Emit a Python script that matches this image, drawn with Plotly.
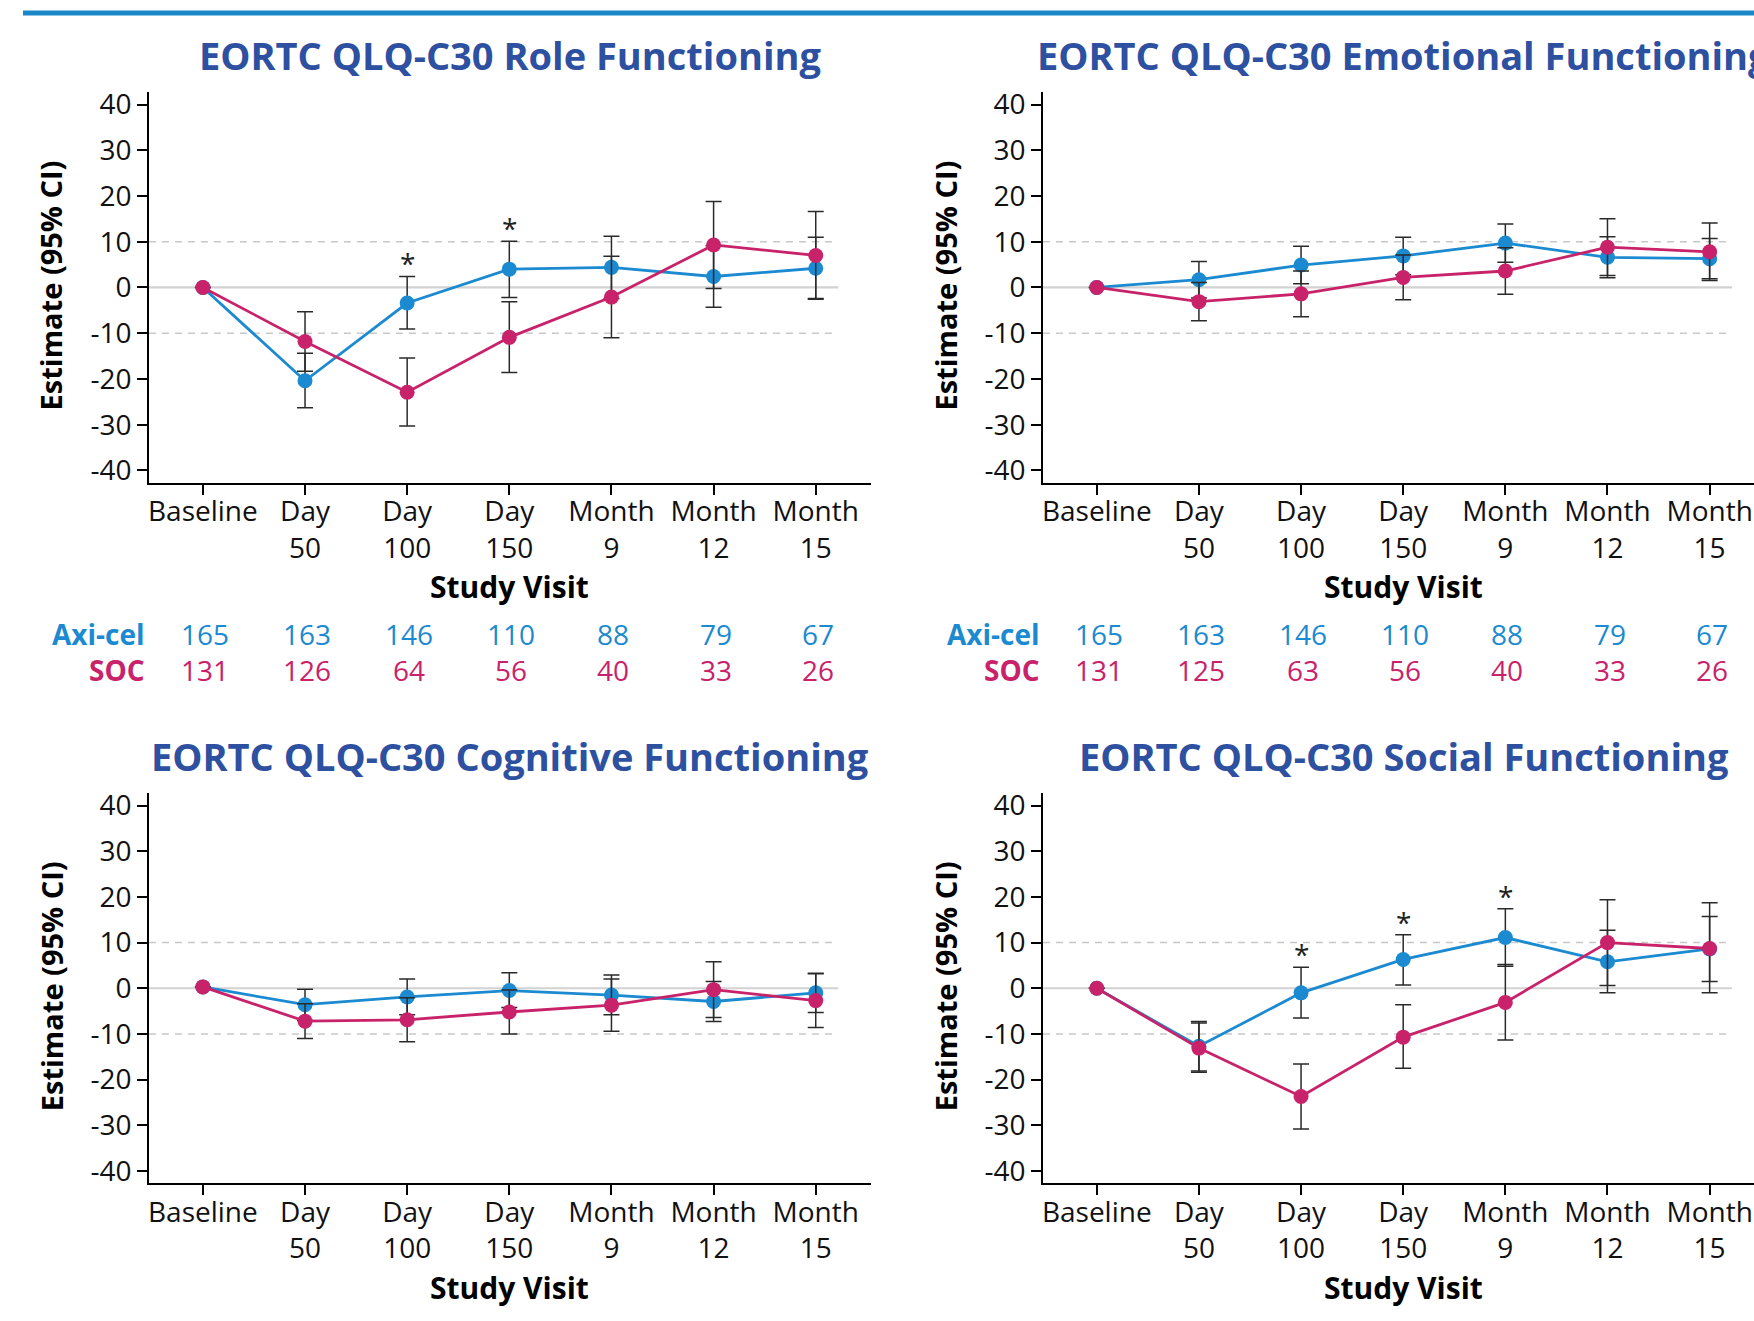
import plotly.graph_objects as go

# ---------------- data ----------------
visits = ["Baseline", "Day<br>50", "Day<br>100", "Day<br>150", "Month<br>9", "Month<br>12", "Month<br>15"]
visit_idx = [0, 1, 2, 3, 4, 5, 6]
y_ticks = [-40, -30, -20, -10, 0, 10, 20, 30, 40]
y_ticktext = ["-40", "-30", "-20", "-10", "0", "10", "20", "30", "40"]

# Role functioning
role_axi_est = [0, -20.4, -3.4, 4.0, 4.4, 2.4, 4.2]
role_axi_lo = [None, -26.3, -9.1, -2.2, -2.4, -4.3, -2.4]
role_axi_hi = [None, -14.4, 2.4, 10.1, 11.2, 9.1, 11.0]
role_soc_est = [0, -11.8, -22.9, -10.9, -2.1, 9.3, 7.0]
role_soc_lo = [None, -18.3, -30.3, -18.6, -11.0, -0.2, -2.6]
role_soc_hi = [None, -5.3, -15.4, -3.1, 6.8, 18.8, 16.6]
role_sig = [2, 3]

# Emotional functioning
emo_axi_est = [0, 1.7, 4.9, 6.9, 9.7, 6.6, 6.3]
emo_axi_lo = [None, -2.3, 0.8, 2.8, 5.5, 2.1, 1.9]
emo_axi_hi = [None, 5.7, 9.0, 11.0, 13.9, 11.1, 10.7]
emo_soc_est = [0, -3.1, -1.4, 2.2, 3.6, 8.8, 7.8]
emo_soc_lo = [None, -7.3, -6.4, -2.7, -1.5, 2.6, 1.5]
emo_soc_hi = [None, 1.1, 3.6, 7.1, 8.7, 15.0, 14.1]
emo_sig = []

# Cognitive functioning
cog_axi_est = [0.3, -3.6, -1.9, -0.5, -1.5, -2.9, -1.0]
cog_axi_lo = [None, -7.0, -5.8, -4.2, -5.8, -7.3, -5.3]
cog_axi_hi = [None, -0.2, 2.0, 3.4, 2.9, 1.5, 3.3]
cog_soc_est = [0.3, -7.2, -6.9, -5.2, -3.7, -0.3, -2.7]
cog_soc_lo = [None, -11.0, -11.7, -10.0, -9.4, -6.4, -8.6]
cog_soc_hi = [None, -3.4, -2.1, -0.4, 2.0, 5.8, 3.2]
cog_sig = []

# Social functioning
soc_axi_est = [0, -12.7, -1.0, 6.3, 11.1, 5.8, 8.6]
soc_axi_lo = [None, -18.1, -6.5, 0.7, 4.8, -1.0, 1.5]
soc_axi_hi = [None, -7.3, 4.6, 11.7, 17.4, 12.7, 15.7]
soc_soc_est = [0, -13.1, -23.7, -10.7, -3.1, 10.0, 8.7]
soc_soc_lo = [None, -18.4, -30.8, -17.5, -11.3, 0.6, -1.0]
soc_soc_hi = [None, -7.6, -16.6, -3.6, 5.2, 19.4, 18.7]
soc_sig = [2, 3, 4]

# Patient counts
role_n_axi = [165, 163, 146, 110, 88, 79, 67]
role_n_soc = [131, 126, 64, 56, 40, 33, 26]
emo_n_axi = [165, 163, 146, 110, 88, 79, 67]
emo_n_soc = [131, 125, 63, 56, 40, 33, 26]

# ---------------- style ----------------
W, H = 1754, 1321
BLUE = "#1B8AD0"
MAG = "#C8236A"
TITLE_C = "#2D50A0"
ERR_C = "#2a2a2a"
FONT = "Open Sans"
TICK_SIZE = 28


def fx(p):
    return p / W


def fy(p):
    return 1 - p / H


panels = [
    dict(title="EORTC QLQ-C30 Role Functioning", x0=148, x1=870, base=202, y0=85, y1=479.5,
         axi=(role_axi_est, role_axi_lo, role_axi_hi), soc=(role_soc_est, role_soc_lo, role_soc_hi),
         sig=role_sig, counts=(role_n_axi, role_n_soc)),
    dict(title="EORTC QLQ-C30 Emotional Functioning", x0=1042.6, x1=1754, base=1096.4, y0=85, y1=479.5,
         axi=(emo_axi_est, emo_axi_lo, emo_axi_hi), soc=(emo_soc_est, emo_soc_lo, emo_soc_hi),
         sig=emo_sig, counts=(emo_n_axi, emo_n_soc)),
    dict(title="EORTC QLQ-C30 Cognitive Functioning", x0=148, x1=870, base=202, y0=793, y1=1187,
         axi=(cog_axi_est, cog_axi_lo, cog_axi_hi), soc=(cog_soc_est, cog_soc_lo, cog_soc_hi),
         sig=cog_sig, counts=None),
    dict(title="EORTC QLQ-C30 Social Functioning", x0=1042.6, x1=1754, base=1096.4, y0=793, y1=1187,
         axi=(soc_axi_est, soc_axi_lo, soc_axi_hi), soc=(soc_soc_est, soc_soc_lo, soc_soc_hi),
         sig=soc_sig, counts=None),
]

STEP = 102.2
YR = 42.7

fig = go.Figure()
annotations = []
shapes = []


def err_arrays(est, lo, hi):
    plus = [None if h is None else h - e for e, h in zip(est, hi)]
    minus = [None if l is None else e - l for e, l in zip(est, lo)]
    return plus, minus


for i, p in enumerate(panels):
    n = "" if i == 0 else str(i + 1)
    xa, ya = "x" + n, "y" + n
    # two series: axi-cel first, SOC on top
    for name, color, (est, lo, hi) in (("Axi-cel", BLUE, p["axi"]), ("SOC", MAG, p["soc"])):
        plus, minus = err_arrays(est, lo, hi)
        fig.add_trace(go.Scatter(
            x=visit_idx, y=est, mode="lines+markers", name=name, showlegend=False,
            line=dict(color=color, width=2.8),
            marker=dict(color=color, size=15),
            error_y=dict(type="data", symmetric=False, array=plus, arrayminus=minus,
                         color=ERR_C, thickness=1.5, width=8),
            xaxis=xa, yaxis=ya, cliponaxis=False,
        ))
    xr0 = -(p["base"] - p["x0"]) / STEP
    xr1 = (p["x1"] - p["base"]) / STEP
    axis_common = dict(showline=True, linecolor="black", linewidth=1.6, ticks="outside",
                       ticklen=10, tickwidth=1.6, tickcolor="black", showgrid=False,
                       zeroline=False, tickfont=dict(family=FONT, size=TICK_SIZE, color="#111"))
    fig.layout["xaxis" + n] = dict(domain=[fx(p["x0"]), fx(p["x1"])], range=[xr0, xr1],
                                   anchor=ya, tickmode="array", tickvals=visit_idx, ticktext=visits,
                                   ticklabelstandoff=-7, **axis_common)
    fig.layout["yaxis" + n] = dict(domain=[fy(p["y1"]), fy(p["y0"])], range=[-YR, YR],
                                   anchor=xa, tickmode="array", tickvals=y_ticks, ticktext=y_ticktext,
                                   **axis_common)
    # reference lines
    shapes.append(dict(type="line", xref=xa, yref=ya, x0=xr0, x1=6.22, y0=0, y1=0,
                       line=dict(color="#D2D2D2", width=2.2), layer="below"))
    for yv in (10, -10):
        shapes.append(dict(type="line", xref=xa, yref=ya, x0=xr0, x1=6.2, y0=yv, y1=yv,
                           line=dict(color="#C8C8C8", width=1.5, dash="7px,6px"), layer="below"))
    # panel title
    cx = p["x0"] + 361
    annotations.append(dict(text="<b>" + p["title"] + "</b>", xref="paper", yref="paper",
                            x=fx(cx), y=fy(p["y0"] - 37.5), xanchor="center", yanchor="middle",
                            showarrow=False, font=dict(family=FONT, size=38, color=TITLE_C)))
    # axis titles
    annotations.append(dict(text="<b>Study Visit</b>", xref="paper", yref="paper",
                            x=fx(cx), y=fy(p["y1"] + 105), xanchor="center", yanchor="middle",
                            showarrow=False, font=dict(family=FONT, size=30, color="black")))
    annotations.append(dict(text="<b>Estimate (95% CI)</b>", xref="paper", yref="paper",
                            x=fx(p["x0"] - 98), y=fy((p["y0"] + p["y1"]) / 2 - 2), textangle=-90,
                            xanchor="center", yanchor="middle",
                            showarrow=False, font=dict(family=FONT, size=29, color="black")))
    # significance asterisks
    for k in p["sig"]:
        annotations.append(dict(text="*", xref=xa, yref=ya, x=k, y=p["axi"][2][k] + 2.9,
                                xanchor="center", yanchor="middle", showarrow=False,
                                font=dict(family=FONT, size=28, color="#222")))
    # counts rows (one two-line annotation per column)
    if p["counts"]:
        ymid = (633 + 668) / 2
        annotations.append(dict(
            text="<b><span style='color:%s'>Axi-cel</span></b><br><b><span style='color:%s'>SOC</span></b>" % (BLUE, MAG),
            xref="paper", yref="paper", x=fx(p["x0"] - 1.5), y=fy(ymid), xanchor="right", yanchor="middle",
            align="right", showarrow=False, font=dict(family=FONT, size=28, color=BLUE)))
        for k, va, vs in zip(visit_idx, p["counts"][0], p["counts"][1]):
            annotations.append(dict(
                text="<span style='color:%s'>%d</span><br><span style='color:%s'>%d</span>" % (BLUE, va, MAG, vs),
                xref=xa, yref="paper", x=k + 0.02, y=fy(ymid), xanchor="center", yanchor="middle",
                align="center", showarrow=False, font=dict(family=FONT, size=28, color=BLUE)))

# top rule
shapes.append(dict(type="rect", xref="paper", yref="paper", x0=fx(22), x1=1.0, y0=fy(7.5), y1=fy(2.5),
                   fillcolor="#1A87C8", line=dict(width=0)))

fig.update_layout(
    width=W, height=H, margin=dict(l=0, r=0, t=0, b=0),
    paper_bgcolor="white", plot_bgcolor="white",
    annotations=annotations, shapes=shapes, showlegend=False,
    font=dict(family=FONT),
)

fig.write_html("out.html", config={"displayModeBar": False},
               post_script="document.body.style.margin='0';document.body.style.overflow='hidden';")
